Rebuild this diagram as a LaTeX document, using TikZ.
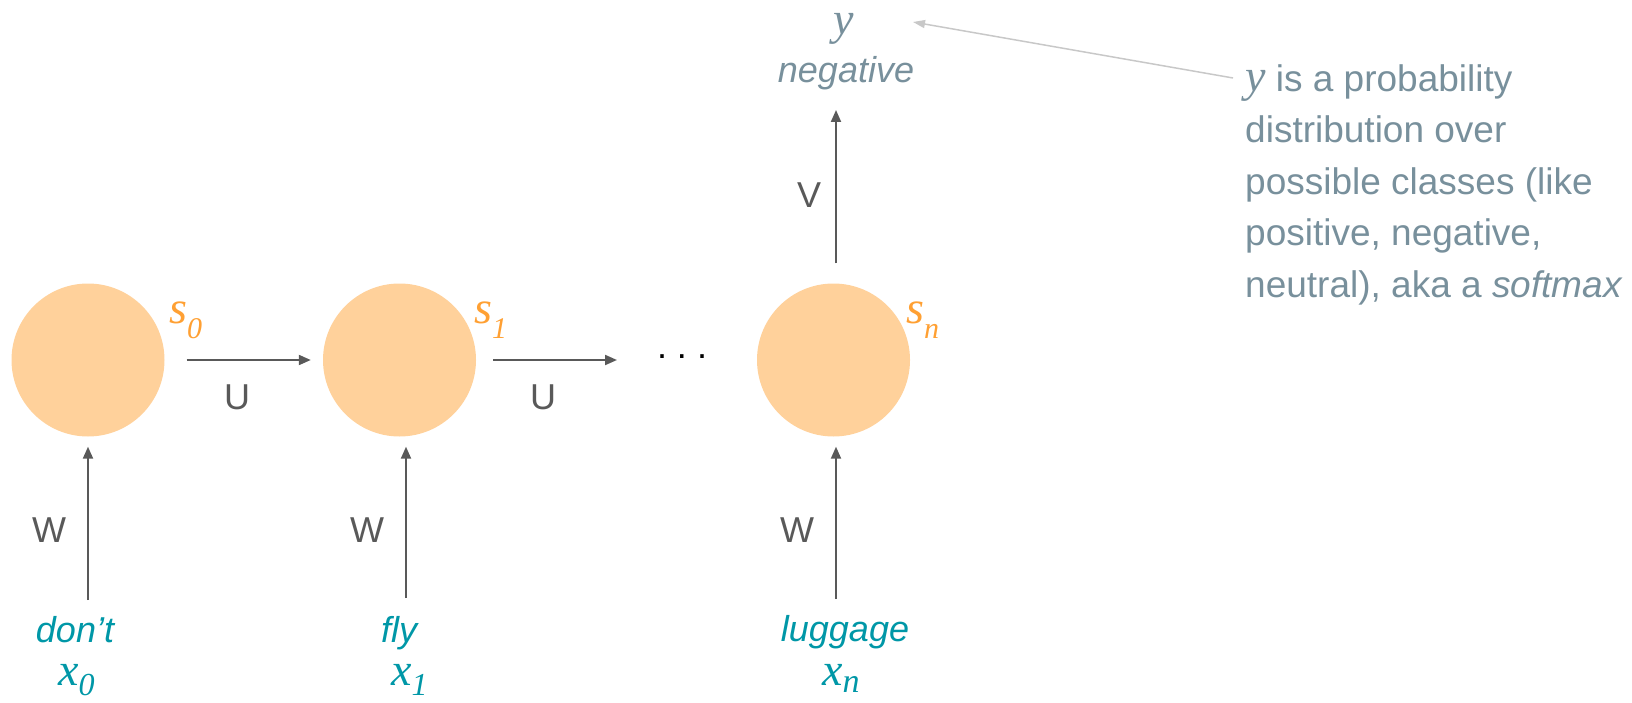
\documentclass[tikz,border=0pt]{standalone}
\usepackage{fontspec}
\setmainfont{Liberation Sans}
\newfontfamily\varfont{Liberation Serif}
\usetikzlibrary{arrows.meta}
\definecolor{circfill}{HTML}{FFD19B}
\definecolor{sorange}{HTML}{FFA033}
\definecolor{tealtxt}{HTML}{0097A7}
\definecolor{bluegray}{HTML}{78909C}
\definecolor{darkgr}{HTML}{595959}
\definecolor{lightgr}{HTML}{C8C8C8}
\newcommand\lowsub[3]{#1\raisebox{-#3}{#2}}
\newcommand\vv[2]{{\fontsize{#1}{#1}\selectfont\varfont\itshape #2}}
\begin{document}
\begin{tikzpicture}[x=1pt,y=-1pt,
  state/.style={circle,fill=circfill,draw=none,minimum size=153pt,inner sep=0pt},
  arr/.style={draw=darkgr,line width=2pt,-{Triangle[length=12pt,width=10pt]}},
  annarr/.style={draw=lightgr,line width=1.5pt,-{Triangle[length=12pt,width=8pt]}},
  wlabel/.style={inner sep=0pt,text=darkgr,font=\fontsize{36}{36}\selectfont},
  slabel/.style={inner sep=0pt,anchor=base west,text=sorange},
  word/.style={inner sep=0pt,anchor=base,text=tealtxt,font=\fontsize{36}{36}\selectfont\itshape},
  xlabel/.style={inner sep=0pt,anchor=base west,text=tealtxt},
  gblabel/.style={inner sep=0pt,text=bluegray}
]
\useasboundingbox (0,0) rectangle (1632,703);

% states
\node[state] (s0) at (88,360) {};
\node[state] (s1) at (399.5,360) {};
\node[state] (sn) at (833.5,360) {};

% state labels
\node[slabel] (s0lab) at (169,323) {\lowsub{\vv{46}{s}}{\vv{30}{0}}{15pt}};
\node[slabel] (s1lab) at (474,323) {\lowsub{\vv{46}{s}}{\vv{30}{1}}{15pt}};
\node[slabel] (snlab) at (906,323) {\lowsub{\vv{46}{s}}{\vv{30}{n}}{15pt}};

% dots
\node[inner sep=0pt,anchor=base,font=\fontsize{36}{36}\selectfont] (dots) at (682,358) {.\ .\ .};
\coordinate (u2end) at (617,360);

% recurrent arrows
\draw[arr] ([xshift=22pt]s0.east) -- ([xshift=-12pt]s1.west);
\draw[arr] ([xshift=17pt]s1.east) -- (u2end);
\node[wlabel] (u1) at (237,397) {U};
\node[wlabel] (u2) at (543,397) {U};

% words
\node[word] (w0word) at (75,642) {don’t};
\node[word] (w1word) at (399,642) {fly};
\node[word] (wnword) at (845,641) {luggage};
\node[xlabel] (x0) at (58,685) {\lowsub{\vv{46}{x}}{\vv{32}{0}}{10pt}};
\node[xlabel] (x1) at (391,685) {\lowsub{\vv{46}{x}}{\vv{32}{1}}{10pt}};
\node[xlabel] (xn) at (822,685) {\lowsub{\vv{46}{x}}{\vv{34}{n}}{7pt}};

% input arrows
\coordinate (w0) at (88,600);
\coordinate (w1) at (406,598);
\coordinate (wn) at (836,599);
\draw[arr] (w0) -- ([yshift=-10pt]w0 |- s0.south);
\draw[arr] (w1) -- ([yshift=-10pt]w1 |- s1.south);
\draw[arr] (wn) -- ([yshift=-10pt]wn |- sn.south);
\node[wlabel] (wl0) at (49,530) {W};
\node[wlabel] (wl1) at (367,530) {W};
\node[wlabel] (wln) at (797,530) {W};

% output
\node[gblabel,anchor=base] (ylab) at (844,35) {\vv{46}{y}};
\node[gblabel,anchor=base,font=\fontsize{36}{36}\selectfont\itshape] (neg) at (846,83) {negative};
\coordinate (vtip) at (836,110);
\draw[arr] ([yshift=20pt]vtip |- sn.north) -- (vtip);
\node[wlabel] (vl) at (809,195) {V};

% annotation
\node[gblabel,anchor=north west,align=left,font=\fontsize{37}{51.5}\selectfont] (note) at (1245,64)
  {\vv{46}{y} is a probability\\
   distribution over\\
   possible classes (like\\
   positive, negative,\\
   neutral), aka a \textit{softmax}};
\coordinate (annstart) at (1233,78);
\coordinate (anntip) at (913,22);
\draw[annarr] (annstart) -- (anntip);
\end{tikzpicture}
\end{document}
